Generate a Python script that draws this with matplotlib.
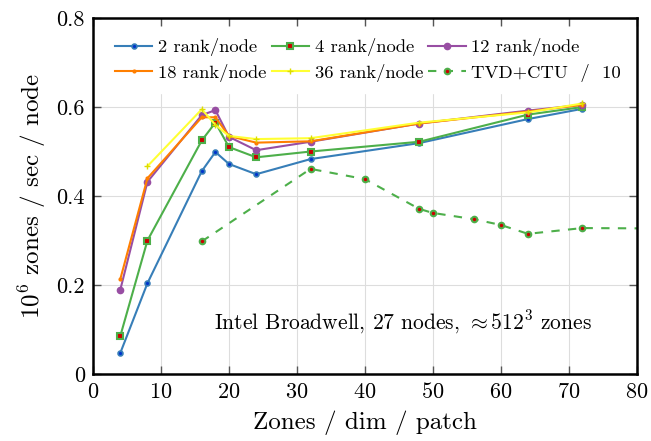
import matplotlib
matplotlib.use('Agg')
import matplotlib.pyplot as plt

plt.rcParams['font.family'] = 'serif'
plt.rcParams['font.serif'] = ['cmr10', 'DejaVu Serif']
plt.rcParams['mathtext.fontset'] = 'cm'
plt.rcParams['axes.formatter.use_mathtext'] = True

zones = [4, 8, 16, 18, 20, 24, 32, 48, 64, 72]
r2 = [0.047, 0.204, 0.456, 0.499, 0.472, 0.449, 0.483, 0.519, 0.573, 0.596]
r4 = [0.085, 0.300, 0.525, 0.565, 0.510, 0.487, 0.500, 0.522, 0.583, 0.600]
r12 = [0.189, 0.432, 0.582, 0.593, 0.533, 0.503, 0.522, 0.563, 0.592, 0.605]
r18 = [0.213, 0.440, 0.577, 0.577, 0.535, 0.520, 0.523, 0.563, 0.590, 0.605]
zones36 = [8, 16, 18, 20, 24, 32, 48, 64, 72]
r36 = [0.467, 0.595, 0.560, 0.535, 0.528, 0.530, 0.565, 0.588, 0.608]
zones_tvd = [16, 32, 40, 48, 50, 56, 60, 64, 72, 96]
tvd = [0.298, 0.461, 0.438, 0.371, 0.362, 0.348, 0.335, 0.315, 0.328, 0.326]

blue, green, purple = '#377eb8', '#4daf4a', '#984ea3'
orange, yellow = '#ff7f00', '#ffff33'

fig = plt.figure(figsize=(6.51, 4.41), dpi=100)
ax = fig.add_axes([0.143, 0.152, 0.835, 0.807])

ax.plot(zones, r2, '-o', color=blue, lw=1.5, ms=3.5, mfc='#0033cc', mec=blue, mew=1.2,
        label='2 rank/node')
ax.plot(zones, r4, '-s', color=green, lw=1.5, ms=4, mfc='#cc0000', mec=green, mew=1.5,
        label='4 rank/node')
ax.plot(zones, r12, '-o', color=purple, lw=1.5, ms=4.5, mfc=purple, mec=purple,
        label='12 rank/node')
ax.plot(zones, r18, '-', color=orange, lw=1.5, marker='.', ms=4, mfc=orange,
        label='18 rank/node')
ax.plot(zones36, r36, '-', color=yellow, lw=1.5, marker='+', ms=4, mec='#dddd00',
        label='36 rank/node')
ax.plot(zones_tvd, tvd, '--o', color=green, lw=1.5, ms=4, mfc='#cc0000', mec=green,
        mew=1.5, dashes=(4, 4), label='TVD+CTU  /  10')

ax.set_xlim(0, 80)
ax.set_ylim(0, 0.8)
ax.set_xticks(range(0, 81, 10))
ax.set_yticks([0, 0.2, 0.4, 0.6, 0.8])
ax.set_yticklabels(['0', '0.2', '0.4', '0.6', '0.8'])
ax.grid(True, color='#dddddd', lw=0.8)
ax.tick_params(direction='in', top=True, right=True, labelsize=16, length=6,
               width=1.0, color='#555555', pad=6)
for s in ax.spines.values():
    s.set_linewidth(1.8)

ax.set_xlabel('Zones / dim / patch', fontsize=18, labelpad=6)
ax.set_ylabel(r'$10^6$ zones / sec / node', fontsize=18, labelpad=6)

ax.text(45.6, 0.117, r'Intel Broadwell, 27 nodes, $\approx 512^3$ zones',
        fontsize=15.5, ha='center', va='center')

# legend filled row by row
h, l = ax.get_legend_handles_labels()
order = [0, 3, 1, 4, 2, 5]
leg = ax.legend([h[i] for i in order], [l[i] for i in order], ncol=3,
                loc='upper left', bbox_to_anchor=(0.02, 0.975), borderaxespad=0,
                fontsize=13.4, frameon=True, framealpha=1, edgecolor='white',
                fancybox=False, handlelength=2.0, columnspacing=0.27,
                handletextpad=0.32, borderpad=0.6, labelspacing=0.4)

fig.savefig('out.png', dpi=100)
